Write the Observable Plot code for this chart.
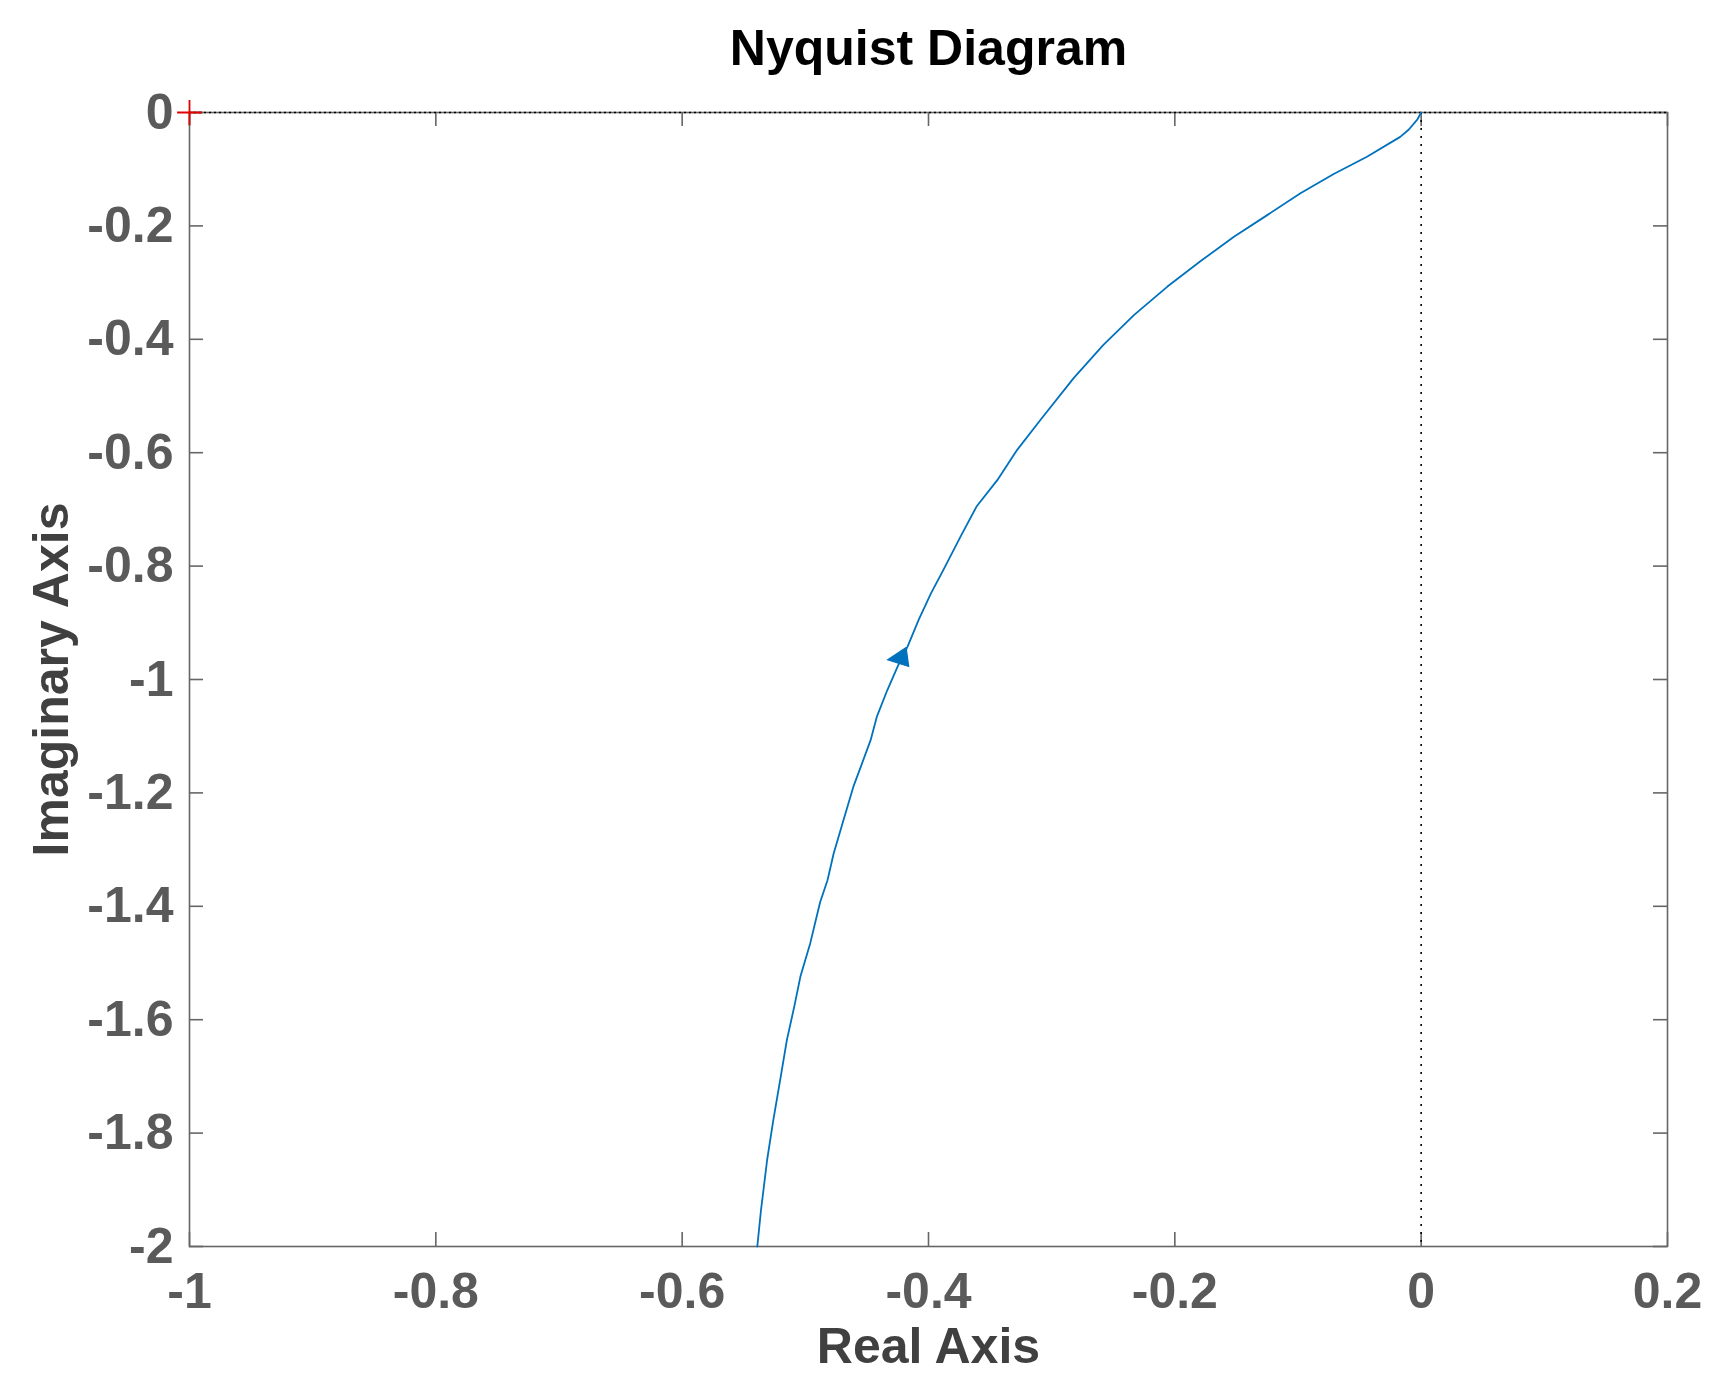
<!DOCTYPE html>
<html>
<head>
<meta charset="utf-8">
<script src="https://cdn.jsdelivr.net/npm/d3@7"></script>
<script src="https://cdn.jsdelivr.net/npm/@observablehq/plot@0.6"></script>
<style>
  html, body { margin: 0; padding: 0; background: #fff; }
  #chart svg { display: block; }
</style>
</head>
<body>
<div id="chart"></div>
<script>
// Nyquist curve (real, imaginary)
const realPart = [0, -0.003, -0.010, -0.017, -0.044, -0.071, -0.098, -0.125, -0.152, -0.179, -0.206, -0.233, -0.258, -0.282, -0.309, -0.328, -0.344, -0.361, -0.374, -0.388, -0.398, -0.408, -0.417, -0.425, -0.4335, -0.442, -0.447, -0.455, -0.461, -0.469, -0.477, -0.482, -0.488, -0.496, -0.504, -0.509, -0.515, -0.520, -0.526, -0.531, -0.536, -0.539];
const imagPart = [0, -0.012, -0.030, -0.043, -0.078, -0.1085, -0.1425, -0.181, -0.219, -0.262, -0.307, -0.357, -0.410, -0.468, -0.542, -0.595, -0.648, -0.695, -0.748, -0.807, -0.848, -0.895, -0.942, -0.977, -1.019, -1.066, -1.107, -1.154, -1.189, -1.248, -1.307, -1.354, -1.393, -1.465, -1.524, -1.577, -1.636, -1.701, -1.777, -1.847, -1.936, -2.0];
const arrowReal = [-0.4225];
const arrowImag = [-0.962];
const criticalReal = [-1];
const criticalImag = [0];
const xTicks = [-1, -0.8, -0.6, -0.4, -0.2, 0, 0.2];
const yTicks = [0, -0.2, -0.4, -0.6, -0.8, -1, -1.2, -1.4, -1.6, -1.8, -2];
const titleText = "Nyquist Diagram";
const xLabel = "Real Axis";
const yLabel = "Imaginary Axis";

const curve = realPart.map((re, i) => ({re, im: imagPart[i]}));
const arrow = arrowReal.map((re, i) => ({re, im: arrowImag[i]}));
const critical = criticalReal.map((re, i) => ({re, im: criticalImag[i]}));

const W = 1717, H = 1396;
const mL = 189, mR = 50, mT = 112, mB = 150;
const fw = W - mL - mR, fh = H - mT - mB;
const fmt = d => String(+d.toFixed(1));
const tickLen = 14;
const axisColor = "#666666";
const labelColor = "#5a5a5a";
const font = "'Liberation Sans', Arial, sans-serif";
const fs = 50;

// thin "+" marker
const plusSymbol = {
  draw(context, size) {
    const r = Math.sqrt(size) / 2;
    context.moveTo(-r, 0); context.lineTo(r, 0);
    context.moveTo(0, -r); context.lineTo(0, r);
  }
};
// MATLAB-style direction arrowhead (scaled so r = 10 gives the native size)
const arrowSymbol = {
  draw(context, size) {
    const s = Math.sqrt(size) / (Math.sqrt(Math.PI) * 10);
    context.moveTo(-13.1 * s, 1.9 * s);
    context.lineTo(5.3 * s, -10.5 * s);
    context.lineTo(7.9 * s, 8.5 * s);
    context.closePath();
  }
};

const chart = Plot.plot({
  width: W,
  height: H,
  marginLeft: mL,
  marginRight: mR,
  marginTop: mT,
  marginBottom: mB,
  style: {fontFamily: font, background: "#fff"},
  x: {domain: [-1, 0.2], ticks: xTicks, tickFormat: fmt, label: null},
  y: {domain: [-2, 0], ticks: yTicks, tickFormat: fmt, label: null},
  marks: [
    Plot.frame({stroke: axisColor, strokeWidth: 1.6}),
    // inward ticks
    Plot.tickX(xTicks, {x: d => d, insetTop: fh - tickLen, stroke: axisColor, strokeWidth: 1.6}),
    Plot.tickX(xTicks, {x: d => d, insetBottom: fh - tickLen, stroke: axisColor, strokeWidth: 1.6}),
    Plot.tickY(yTicks, {y: d => d, insetRight: fw - tickLen, stroke: axisColor, strokeWidth: 1.6}),
    Plot.tickY(yTicks, {y: d => d, insetLeft: fw - tickLen, stroke: axisColor, strokeWidth: 1.6}),
    // tick labels
    Plot.axisX(xTicks, {anchor: "bottom", tickSize: 0, tickPadding: 26, tickFormat: fmt, fontSize: fs, fontWeight: "bold", fill: labelColor, label: null}),
    Plot.axisY(yTicks, {anchor: "left", tickSize: 0, tickPadding: 16, tickFormat: fmt, fontSize: fs, fontWeight: "bold", fill: labelColor, label: null}),
    // dotted zero lines
    Plot.ruleY([0], {stroke: "#000", strokeWidth: 1.3, strokeDasharray: "2,3"}),
    Plot.ruleX([0], {stroke: "#000", strokeWidth: 1.6, strokeDasharray: "2,6"}),
    // Nyquist curve
    Plot.line(curve, {x: "re", y: "im", stroke: "#0072BD", strokeWidth: 1.8}),
    Plot.dot(arrow, {x: "re", y: "im", symbol: arrowSymbol, r: 10, fill: "#0072BD", stroke: "#0072BD", strokeWidth: 1.2}),
    // critical point
    Plot.dot(critical, {x: "re", y: "im", symbol: plusSymbol, r: 14, fill: "none", stroke: "#e00000", strokeWidth: 1.8}),
    // title and axis labels
    Plot.text([titleText], {frameAnchor: "top", lineAnchor: "middle", dy: -64, fontSize: fs, fontWeight: "bold", fill: "#000"}),
    Plot.text([xLabel], {frameAnchor: "bottom", lineAnchor: "middle", dy: 100, fontSize: fs, fontWeight: "bold", fill: "#404040"}),
    Plot.text([yLabel], {frameAnchor: "left", textAnchor: "middle", lineAnchor: "middle", dx: -138, rotate: -90, fontSize: fs, fontWeight: "bold", fill: "#404040"})
  ]
});
document.getElementById("chart").appendChild(chart);
</script>
</body>
</html>
